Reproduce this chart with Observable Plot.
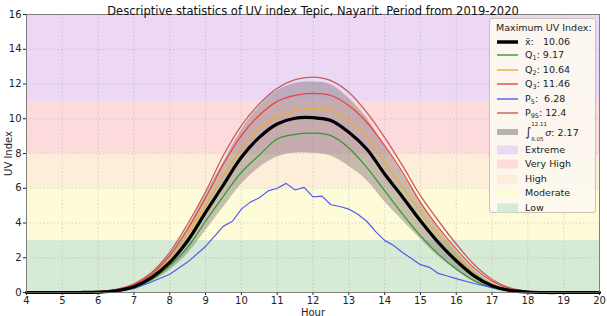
<!DOCTYPE html>
<html>
<head>
<meta charset="utf-8">
<script src="https://cdn.jsdelivr.net/npm/d3@7"></script>
<script src="https://cdn.jsdelivr.net/npm/@observablehq/plot@0.6"></script>
<style>
  html, body { margin: 0; padding: 0; background: #fff; }
  #wrap { position: relative; width: 607px; height: 316px; font-family: "DejaVu Sans", sans-serif; }
  #legend { position: absolute; left: 489px; top: 18px; width: 107px; height: 195px; box-sizing: border-box;
    background: rgba(253,249,240,0.92); border: 1px solid #c9c2b6; border-radius: 3px; font-size: 9.5px; color: #222; }
  #legend .ttl { position: absolute; left: 6px; top: 3px; white-space: nowrap; }
  #legend .row { position: absolute; left: 0; height: 12px; width: 107px; }
  #legend .sw { position: absolute; left: 7px; top: 0; width: 21px; height: 12px; }
  #legend .lab { position: absolute; left: 35px; top: 0; line-height: 12px; white-space: nowrap; }
  sub { font-size: 6.5px; vertical-align: -2px; }
</style>
</head>
<body>
<div id="wrap"><div id="legend"></div></div>
<script>
// ---- data ----
const title = "Descriptive statistics of UV index Tepic, Nayarit. Period from 2019-2020";
const hours = [4,4.5,5,5.5,6,6.5,7,7.5,8,8.5,9,9.5,10,10.5,11,11.5,12,12.5,13,13.5,14,14.5,15,15.5,16,16.5,17,17.5,18,18.5,19,19.5,20];
const meanUV = [0,0,0,0,0.02,0.1,0.33,0.87,1.73,2.98,4.61,6.2,7.78,8.93,9.7,10.03,10.06,9.9,9.22,8.26,6.82,5.5,4.13,2.88,1.83,0.96,0.39,0.12,0.03,0,0,0,0];
const q1UV   = [0,0,0,0,0.01,0.08,0.28,0.75,1.54,2.6,4.1,5.55,6.92,7.9,8.84,9.1,9.17,9.03,8.32,7.2,5.86,4.52,3.27,2.21,1.35,0.67,0.28,0.08,0.02,0,0,0,0];
const q2UV   = [0,0,0,0,0.03,0.12,0.38,0.97,1.92,3.37,5.0,6.7,8.26,9.45,10.15,10.45,10.62,10.47,9.9,8.93,7.49,6.05,4.61,3.27,2.12,1.1,0.46,0.15,0.04,0,0,0,0];
const q3UV   = [0,0,0,0,0.04,0.15,0.44,1.07,2.12,3.65,5.45,7.4,9.03,10.2,11.0,11.35,11.46,11.34,10.76,9.8,8.45,6.92,5.19,3.75,2.5,1.4,0.65,0.22,0.06,0,0,0,0];
const p95UV  = [0,0,0,0,0.05,0.18,0.5,1.17,2.31,3.94,5.8,7.9,9.61,10.85,11.75,12.25,12.4,12.2,11.53,10.37,8.93,7.3,5.57,4.13,2.79,1.61,0.75,0.27,0.07,0,0,0,0];
const sigmaUV= [0,0,0,0,0.01,0.04,0.1,0.25,0.45,0.75,1.05,1.3,1.55,1.75,1.9,2.0,2.05,2.05,1.95,1.8,1.6,1.35,1.05,0.8,0.55,0.33,0.16,0.06,0.02,0,0,0,0];
const p5Hours = [4,5,6,6.5,7,7.5,8,8.5,9,9.5,9.75,10,10.25,10.5,10.75,11,11.25,11.5,11.75,12,12.25,12.5,12.75,13,13.25,13.5,13.75,14,14.25,14.5,14.75,15,15.25,15.5,15.75,16,16.5,17,17.5,18,19,20];
const p5UV    = [0,0,0.01,0.05,0.22,0.62,1.05,1.75,2.65,3.82,4.1,4.8,5.2,5.45,5.85,6.0,6.28,5.9,6.05,5.5,5.55,5.05,4.95,4.8,4.5,4.1,3.5,3.0,2.7,2.3,1.95,1.6,1.45,1.1,0.95,0.8,0.52,0.28,0.1,0.02,0,0];
const bandNames = ["Low","Moderate","High","Very High","Extreme"];
const bandLo = [0,3,6,8,11];
const bandHi = [3,6,8,11,16];
const bandColors = ["#d6ead5","#fdfbd8","#fdeeda","#fddadc","#ecd7f5"];
const seriesNames = ["mean","Q1","Q2","Q3","P5","P95"];
const seriesMax = ["10.06","9.17","10.64","11.46","6.28","12.4"];
const seriesColors = ["#000000","#2f9a2f","#f2aa35","#ee4040","#4f5cf0","#c06060"];
const sigmaLabel = {from: "8.05", to: "12.11", value: "2.17"};
const xTicks = [4,5,6,7,8,9,10,11,12,13,14,15,16,17,18,19,20];
const yTicks = [0,2,4,6,8,10,12,14,16];

// ---- tables ----
const rows = hours.map((h, i) => ({h, mean: meanUV[i], q1: q1UV[i], q2: q2UV[i], q3: q3UV[i], p95: p95UV[i], sd: sigmaUV[i]}));
const p5Rows = p5Hours.map((h, i) => ({h, v: p5UV[i]}));
const bands = bandNames.map((n, i) => ({n, lo: bandLo[i], hi: bandHi[i], c: bandColors[i]}));
const curve = "catmull-rom";

const chart = Plot.plot({
  width: 607, height: 316,
  marginLeft: 26, marginRight: 8, marginTop: 14, marginBottom: 24,
  style: {fontFamily: "DejaVu Sans, sans-serif", fontSize: "10px", background: "transparent", color: "#222"},
  x: {domain: [4, 20], ticks: xTicks, tickSize: 3, tickPadding: 1, label: "Hour", labelAnchor: "center", labelOffset: 23, labelArrow: "none"},
  y: {domain: [0, 16], ticks: yTicks, tickSize: 3, tickPadding: 2, label: "UV Index", labelAnchor: "center", labelOffset: 22, labelArrow: "none"},
  marks: [
    Plot.rect(bands, {y1: "lo", y2: "hi", fill: "c"}),
    Plot.gridX(xTicks, {stroke: "#999", strokeOpacity: 0.35, strokeDasharray: "1.5,2"}),
    Plot.gridY(yTicks, {stroke: "#999", strokeOpacity: 0.35, strokeDasharray: "1.5,2"}),
    Plot.areaY(rows, {x: "h", y1: d => d.mean - d.sd, y2: d => d.mean + d.sd, fill: "#7a6e6e", fillOpacity: 0.42, curve}),
    Plot.lineY(rows, {x: "h", y: "p95", stroke: seriesColors[5], strokeWidth: 1.3, curve}),
    Plot.lineY(rows, {x: "h", y: "q3", stroke: seriesColors[3], strokeWidth: 1.2, curve}),
    Plot.lineY(rows, {x: "h", y: "q2", stroke: seriesColors[2], strokeWidth: 1.2, curve}),
    Plot.lineY(rows, {x: "h", y: "q1", stroke: seriesColors[1], strokeWidth: 1.2, curve}),
    Plot.lineY(p5Rows, {x: "h", y: "v", stroke: seriesColors[4], strokeWidth: 1.2}),
    Plot.lineY(rows, {x: "h", y: "mean", stroke: seriesColors[0], strokeWidth: 3.2, curve}),
    Plot.frame({stroke: "#666", strokeWidth: 0.8}),
    Plot.text([title], {frameAnchor: "top", dy: -8, text: d => d, fontSize: 11.5, fill: "#111"})
  ]
});
document.getElementById("wrap").prepend(chart);

// ---- legend ----
const lg = document.getElementById("legend");
lg.innerHTML = '<div class="ttl">Maximum UV Index:</div>';
const labHtml = [
  'x&#772;:&nbsp;&nbsp; ' + seriesMax[0],
  'Q<sub>1</sub>: ' + seriesMax[1],
  'Q<sub>2</sub>: ' + seriesMax[2],
  'Q<sub>3</sub>: ' + seriesMax[3],
  'P<sub>5</sub>:&nbsp; ' + seriesMax[4],
  'P<sub>95</sub>: ' + seriesMax[5]
];
const rowTops = [17, 30, 45, 59, 74, 88];
seriesNames.forEach((n, i) => {
  const r = document.createElement("div");
  r.className = "row"; r.style.top = rowTops[i] + "px";
  const w = i === 0 ? 3.5 : 1.4;
  r.innerHTML = `<svg class="sw" width="21" height="12"><line x1="0" x2="21" y1="6" y2="6" stroke="${seriesColors[i]}" stroke-width="${w}"/></svg><div class="lab">${labHtml[i]}</div>`;
  lg.appendChild(r);
});
// sigma row
{
  const r = document.createElement("div");
  r.className = "row"; r.style.top = "104px"; r.style.height = "18px";
  r.innerHTML = `<svg class="sw" width="21" height="18"><rect x="0" y="6" width="21" height="7" fill="#7a7a7a" fill-opacity="0.55"/></svg>
  <div class="lab" style="line-height:18px;"><span style="font-size:12px;">&int;</span><span style="display:inline-block;position:relative;width:14px;height:18px;vertical-align:top;"><span style="position:absolute;left:0;top:-3px;font-size:5.5px;line-height:8px;">${sigmaLabel.to}</span><span style="position:absolute;left:0;top:12px;font-size:5.5px;line-height:8px;">${sigmaLabel.from}</span></span><i>&sigma;</i>: ${sigmaLabel.value}</div>`;
  lg.appendChild(r);
}
const bandOrder = [4,3,2,1,0];
const bandTops = [125, 139, 154, 168, 183];
bandOrder.forEach((bi, k) => {
  const r = document.createElement("div");
  r.className = "row"; r.style.top = bandTops[k] + "px";
  r.innerHTML = `<svg class="sw" width="21" height="12"><rect x="0" y="2" width="21" height="8" fill="${bandColors[bi]}" stroke="${bandColors[bi]}"/></svg><div class="lab">${bandNames[bi]}</div>`;
  lg.appendChild(r);
});
</script>
</body>
</html>
